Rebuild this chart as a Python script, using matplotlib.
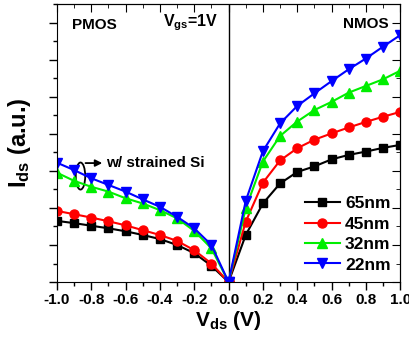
import matplotlib
matplotlib.use("Agg")
import matplotlib.pyplot as plt
from matplotlib.patches import Ellipse
from matplotlib.ticker import MultipleLocator

plt.rcParams['font.family'] = ['Liberation Sans', 'DejaVu Sans']
plt.rcParams['font.weight'] = 'bold'
plt.rcParams['mathtext.fontset'] = 'custom'
plt.rcParams['mathtext.rm'] = 'Liberation Sans:bold'
plt.rcParams['mathtext.bf'] = 'Liberation Sans:bold'
plt.rcParams['mathtext.it'] = 'Liberation Sans:bold'
plt.rcParams['mathtext.default'] = 'regular'

# data
vds_p = [-1.0, -0.9, -0.8, -0.7, -0.6, -0.5, -0.4, -0.3, -0.2, -0.1, 0.0]
vds_n = [0.0, 0.1, 0.2, 0.3, 0.4, 0.5, 0.6, 0.7, 0.8, 0.9, 1.0]

p65 = [1.65, 1.59, 1.52, 1.45, 1.37, 1.27, 1.16, 1.00, 0.78, 0.44, 0.0]
p45 = [1.92, 1.83, 1.74, 1.64, 1.53, 1.40, 1.27, 1.11, 0.86, 0.50, 0.0]
p32 = [2.95, 2.73, 2.57, 2.44, 2.26, 2.12, 1.94, 1.72, 1.38, 0.91, 0.0]
p22 = [3.22, 3.02, 2.80, 2.62, 2.44, 2.23, 2.03, 1.76, 1.45, 1.00, 0.0]

n65 = [0.0, 1.27, 2.12, 2.66, 2.97, 3.12, 3.31, 3.43, 3.52, 3.62, 3.70]
n45 = [0.0, 1.63, 2.68, 3.28, 3.61, 3.84, 4.01, 4.17, 4.32, 4.46, 4.59]
n32 = [0.0, 1.99, 3.25, 3.94, 4.33, 4.64, 4.86, 5.11, 5.29, 5.47, 5.70]
n22 = [0.0, 2.19, 3.53, 4.28, 4.75, 5.09, 5.42, 5.74, 6.03, 6.35, 6.66]

labels = ['65nm', '45nm', '32nm', '22nm']
colors = ['black', 'red', '#00ee00', 'blue']
markers = ['s', 'o', '^', 'v']
msizes = [5.5, 6.5, 6.5, 6.5]
xticks = [-1.0, -0.8, -0.6, -0.4, -0.2, 0.0, 0.2, 0.4, 0.6, 0.8, 1.0]

fig = plt.figure(figsize=(4.10, 3.37), dpi=100)
ax = fig.add_axes([0.139, 0.163, 0.837, 0.825])

pm = [p65, p45, p32, p22]
nm = [n65, n45, n32, n22]
for i in range(4):
    ax.plot(vds_p, pm[i], color=colors[i], marker=markers[i], ms=msizes[i], lw=1.5)
    ax.plot(vds_n, nm[i], color=colors[i], marker=markers[i], ms=msizes[i], lw=1.5,
            label=labels[i])

ax.axvline(0, color='black', lw=1.0, zorder=0)

ax.set_xlim(-1.0, 1.0)
ax.set_ylim(0, 7.5)
ax.set_xticks(xticks)
ax.set_xticklabels([f'{v:.1f}' for v in xticks], fontsize=11, fontweight='bold')
ax.xaxis.set_minor_locator(MultipleLocator(0.1))
ax.yaxis.set_major_locator(MultipleLocator(1))
ax.yaxis.set_minor_locator(MultipleLocator(0.5))
ax.set_yticklabels([])
ax.tick_params(axis='both', which='major', length=6, width=1, direction='out',
               top=False, right=False)
ax.tick_params(axis='both', which='minor', length=3, width=1, direction='out',
               top=False, right=False)
ax.tick_params(axis='x', pad=2)

# mirrored inner ticks on top/right
sec = ax.secondary_xaxis('top')
sec.set_xticks(xticks)
sec.xaxis.set_minor_locator(MultipleLocator(0.1))
sec.tick_params(which='major', direction='in', length=6, labeltop=False)
sec.tick_params(which='minor', direction='in', length=3)
secy = ax.secondary_yaxis('right')
secy.yaxis.set_major_locator(MultipleLocator(1))
secy.yaxis.set_minor_locator(MultipleLocator(0.5))
secy.tick_params(which='major', direction='in', length=6, labelright=False)
secy.tick_params(which='minor', direction='in', length=3)

ax.set_xlabel(r'V$_{ds}$ (V)', fontsize=15, fontweight='bold', labelpad=1)
ax.set_ylabel(r'I$_{ds}$ (a.u.)', fontsize=17, fontweight='bold', labelpad=8)

ax.text(-0.913, 6.93, 'PMOS', fontsize=11, fontweight='bold', va='center', ha='left')
ax.text(-0.382, 7.0, r'V$_{gs}$=1V', fontsize=11.5, fontweight='bold', va='center', ha='left')
ax.text(0.93, 6.96, 'NMOS', fontsize=11, fontweight='bold', va='center', ha='right')

ax.add_patch(Ellipse((-0.863, 2.86), 0.055, 0.73, fill=False, lw=1.3, color='black'))
ax.annotate('', xy=(-0.72, 3.21), xytext=(-0.85, 3.21),
            arrowprops=dict(arrowstyle='-|>', color='black', lw=1.3, mutation_scale=10))
ax.text(-0.712, 3.21, 'w/ strained Si', fontsize=11, fontweight='bold', va='center', ha='left')

leg = ax.legend(loc='lower right', bbox_to_anchor=(1.0, 0.0), frameon=False,
                handlelength=2.0, handletextpad=0.3, labelspacing=0.3,
                borderaxespad=0.15, prop={'weight': 'bold', 'size': 12.5})

fig.savefig('out.png', dpi=100)
